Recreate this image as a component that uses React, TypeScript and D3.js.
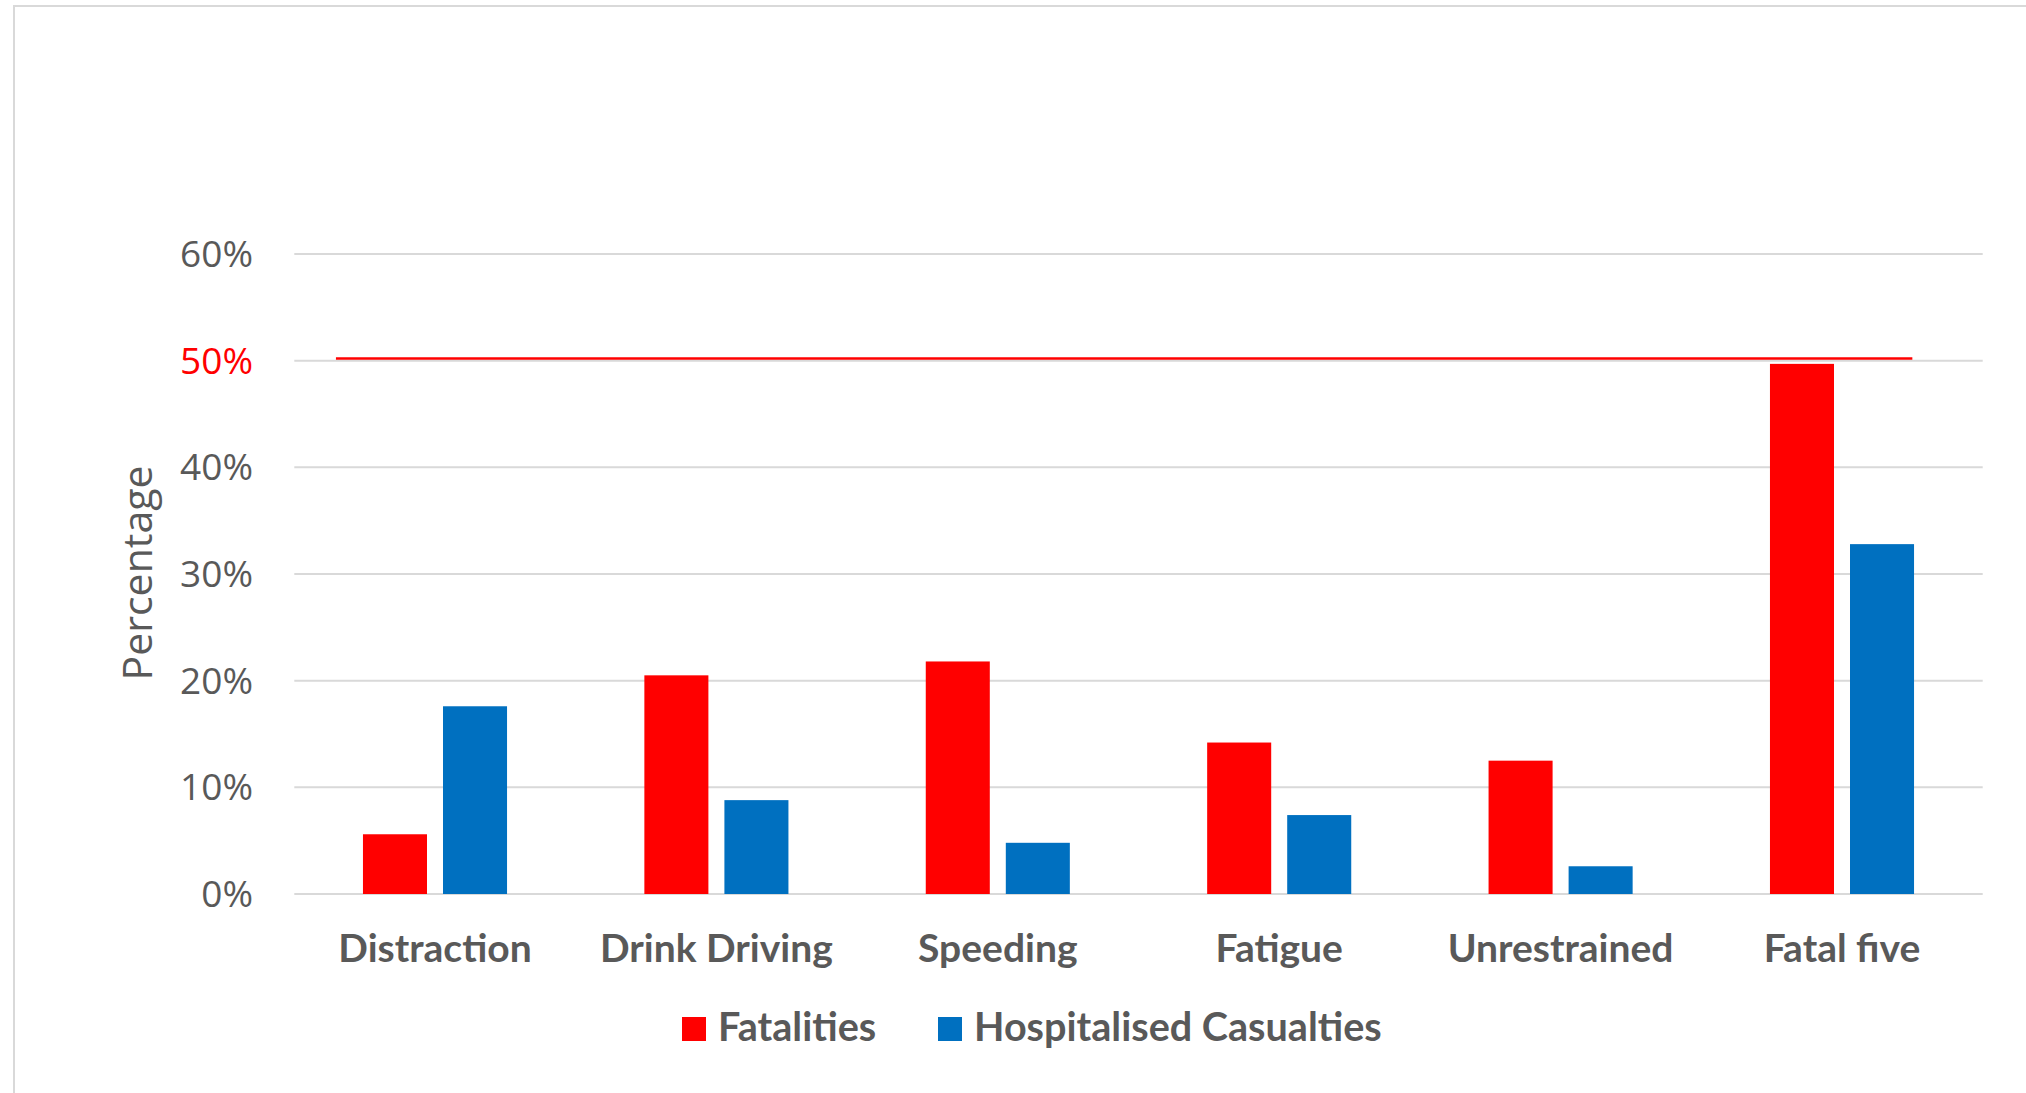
import * as d3 from "d3";

const W = 2026;
const H = 1093;

const categories = ["Distraction", "Drink Driving", "Speeding", "Fatigue", "Unrestrained", "Fatal five"];
const seriesNames = ["Fatalities", "Hospitalised Casualties"];
const fatalities = [0.056, 0.205, 0.218, 0.142, 0.125, 0.497];
const hospitalised = [0.176, 0.088, 0.048, 0.074, 0.026, 0.328];
const yTicks = [0, 0.1, 0.2, 0.3, 0.4, 0.5, 0.6];
// threshold line: value, and start/end in category units
const refValue = 0.502;
const refFrom = 0.148;
const refTo = 5.75;

const COLORS: Record<string, string> = {
  Fatalities: "#ff0000",
  "Hospitalised Casualties": "#0070c0",
};
const TEXT = "#595959";
const GRID = "#d9d9d9";

export default function App() {
  const m = { left: 294.3, right: 1982.7, top: 254, bottom: 894 };

  const x0 = d3.scaleBand<string>().domain(categories).range([m.left, m.right]).padding(0);
  const groupW = x0.bandwidth() * 0.512;
  const x1 = d3.scaleBand<string>().domain(seriesNames).range([0, groupW]).paddingInner(0.2);
  const y = d3.scaleLinear().domain([0, 0.6]).range([m.bottom, m.top]);
  const xIdx = d3.scaleLinear().domain([0, categories.length]).range([m.left, m.right]);
  const fmt = d3.format(".0%");

  const values: Record<string, number[]> = {
    Fatalities: fatalities,
    "Hospitalised Casualties": hospitalised,
  };

  return (
    <svg
      width={W}
      height={H}
      style={{ position: "absolute", left: 0, top: 0, background: "#fff" }}
    >
      {/* chart frame */}
      <rect x={14} y={6} width={2200} height={1300} fill="#fff" stroke={GRID} strokeWidth={2} />

      {/* gridlines */}
      {yTicks.map((t) => (
        <line key={t} x1={m.left} x2={m.right} y1={y(t)} y2={y(t)} stroke={GRID} strokeWidth={2} />
      ))}

      {/* y tick labels */}
      {yTicks.map((t) => (
        <text
          key={"l" + t}
          x={253}
          y={y(t)}
          dy="0.35em"
          textAnchor="end"
          fontFamily="'Open Sans', sans-serif"
          fontSize={37}
          fill={t === 0.5 ? "#ff0000" : TEXT}
        >
          {fmt(t)}
        </text>
      ))}

      {/* y axis title */}
      <text
        transform={`translate(152,573) rotate(-90)`}
        textAnchor="middle"
        fontFamily="'Open Sans', sans-serif"
        fontSize={41}
        fill={TEXT}
      >
        Percentage
      </text>

      {/* bars */}
      {categories.map((c, i) => {
        const gx = (x0(c) ?? 0) + (x0.bandwidth() - groupW) / 2;
        return (
          <g key={c} transform={`translate(${gx},0)`}>
            {seriesNames.map((s) => (
              <rect
                key={s}
                x={x1(s)}
                y={y(values[s][i])}
                width={x1.bandwidth()}
                height={y(0) - y(values[s][i])}
                fill={COLORS[s]}
              />
            ))}
          </g>
        );
      })}

      {/* 50% reference line */}
      <line
        x1={xIdx(refFrom)}
        x2={xIdx(refTo)}
        y1={y(refValue)}
        y2={y(refValue)}
        stroke="#ff0000"
        strokeWidth={2.5}
      />

      {/* category labels */}
      {categories.map((c) => (
        <text
          key={"c" + c}
          x={(x0(c) ?? 0) + x0.bandwidth() / 2}
          y={962}
          textAnchor="middle"
          fontFamily="Lato, sans-serif"
          fontWeight={700}
          fontSize={39}
          fill={TEXT}
        >
          {c}
        </text>
      ))}

      {/* legend */}
      {seriesNames.map((s, i) => {
        const lx = [682, 938][i];
        return (
          <g key={"lg" + s}>
            <rect x={lx} y={1017} width={24} height={24} fill={COLORS[s]} />
            <text
              x={lx + 36}
              y={1041}
              fontFamily="Lato, sans-serif"
              fontWeight={700}
              fontSize={39.6}
              fill={TEXT}
            >
              {s}
            </text>
          </g>
        );
      })}
    </svg>
  );
}
